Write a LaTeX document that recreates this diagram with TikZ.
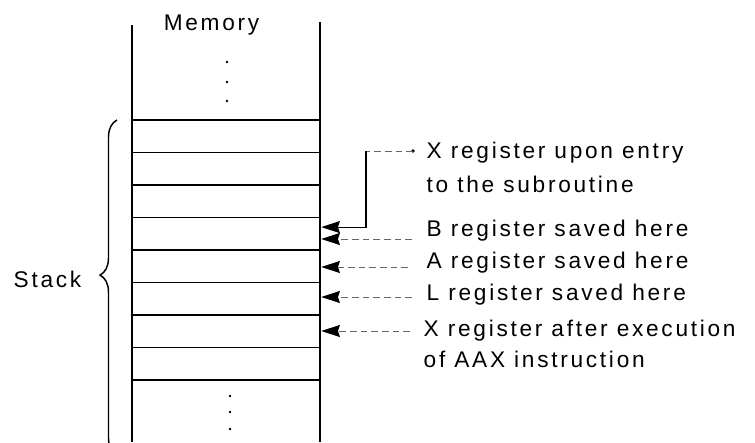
\documentclass[tikz,border=0pt]{standalone}
\usepackage{fontspec}
\setmainfont{Liberation Sans}[LetterSpace=12]
\usetikzlibrary{arrows.meta,positioning,calc,decorations.pathreplacing}

\begin{document}
\begin{tikzpicture}[x=0.75pt, y=-0.75pt, line width=1.1pt,
    cell/.style={draw, minimum width=141.75pt, minimum height=24.375pt, inner sep=0pt},
    lbl/.style={anchor=base west, inner sep=0pt, font=\fontsize{17}{20}\selectfont},
    lead/.style={draw=black!60, dash pattern=on 5pt off 3pt, line width=0.7pt},
    regarrow/.style={lead, -{Stealth[length=14pt, width=9pt, inset=1.5pt, color=black]}}]
  \useasboundingbox (0,0) rectangle (755,442);
  \clip (0,0) rectangle (755,442);

  % Memory column
  \node[lbl, anchor=base] (memtitle) at (211.5,31) {Memory};
  \draw (132,25) -- (132,442);
  \draw (320,22) -- (320,442);
  \foreach \y in {62,82,101} \fill (227,\y) circle (1.4);
  \foreach \y in {396,412,429} \fill (230,\y) circle (1.4);

  % Stack cells
  \foreach \i in {1,...,8}
    \node[cell] (c\i) at (226,103.75+32.5*\i) {};

  %--- Stack brace ---
  \draw[decorate, decoration={brace, amplitude=12.75pt, aspect=0.537}] (117,455) -- (117,120);
  \node[lbl] (stack) at (13,287) {Stack};

  %--- Labels ---
  \node[lbl] (lXin)  at (426,158) {X register upon entry};
  \node[lbl] (lSub)  at (426,192) {to the subroutine};
  \node[lbl] (lB)    at (426,236) {B register saved here};
  \node[lbl] (lA)    at (426,268) {A register saved here};
  \node[lbl] (lL)    at (426,300) {L register saved here};
  \node[lbl] (lXout) at (423,336) {X register after execution};
  \node[lbl] (lAAX)  at (423,367) {of AAX instruction};

  % connectors
  \coordinate (xdot)  at (413,151);
  \coordinate (xbend) at (366,151);
  \coordinate (pB)    at (412,239);
  \coordinate (pA)    at (408,267);
  \coordinate (pL)    at (412,297);
  \coordinate (pXout) at (410,331);
  \fill (xdot) circle (1.8);
  \draw[lead] (xdot) -- (xbend);
  \draw[-{Stealth[length=14pt, width=9pt, inset=1.5pt]}, line width=0.8pt] (xbend) |- ([yshift=5pt]c4.east);
  \draw[regarrow] (pB) -- (pB -| c4.east);
  \draw[regarrow] (pA) -- (pA -| c5.east);
  \draw[regarrow] (pL) -- (pL -| c6.east);
  \draw[regarrow] (pXout) -- (pXout -| c7.east);
\end{tikzpicture}
\end{document}
